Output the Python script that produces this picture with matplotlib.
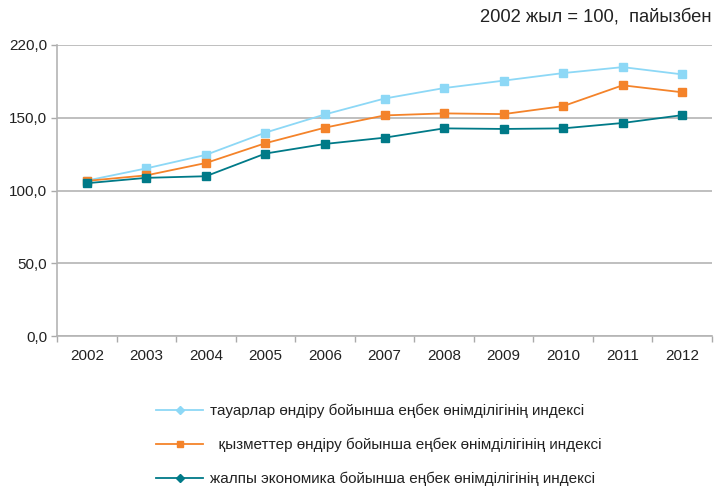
import matplotlib.pyplot as plt
from matplotlib.lines import Line2D
import numpy as np

plt.rcParams['font.family'] = ['Liberation Sans', 'DejaVu Sans']

years = ['2002', '2003', '2004', '2005', '2006', '2007', '2008', '2009', '2010', '2011', '2012']
goods = [106.8, 115.2, 124.5, 139.8, 152.3, 163.2, 170.4, 175.5, 180.7, 184.8, 179.8]
services = [106.6, 110.4, 118.9, 132.5, 143.2, 151.6, 153.0, 152.5, 158.0, 172.3, 167.5]
total = [105.0, 108.7, 109.8, 125.4, 132.0, 136.3, 142.7, 142.3, 142.7, 146.4, 151.8]
yticks = [0, 50, 100, 150, 200]
ytick_labels = ['0,0', '50,0', '100,0', '150,0', '220,0']
labels = ['тауарлар өндіру бойынша еңбек өнімділігінің индексі',
          '  қызметтер өндіру бойынша еңбек өнімділігінің индексі',
          'жалпы экономика бойынша еңбек өнімділігінің индексі']
colors = ['#8dd8f6', '#f4832a', '#007a88']

fig = plt.figure(figsize=(7.2, 4.88), dpi=100)
ax = fig.add_axes([57 / 720, 1 - 336 / 488, 655 / 720, 291 / 488])

x = np.arange(len(years))
for vals, c in zip([goods, services, total], colors):
    ax.plot(x, vals, color=c, lw=1.3, marker='s', ms=5.2, mec=c, mfc=c, zorder=3)

ax.set_xlim(-0.5, len(years) - 0.5)
ax.set_ylim(0, 200)
ax.set_yticks(yticks)
ax.set_yticklabels(ytick_labels, fontsize=11, color='#222222')
ax.set_xticks(x)
ax.set_xticklabels(years, fontsize=11, color='#222222')
ax.set_xticks(np.arange(-0.5, len(years)), minor=True)
ax.tick_params(axis='x', which='major', length=0, pad=9)
ax.tick_params(axis='x', which='minor', length=4, color='#aaaaaa', width=1)
ax.tick_params(axis='y', length=4, color='#aaaaaa', width=1, pad=3)
ax.grid(axis='y', color='#b4b4b4', lw=1.2)
ax.set_axisbelow(True)
for s in ['top', 'right']:
    ax.spines[s].set_visible(False)
for s in ['left', 'bottom']:
    ax.spines[s].set_color('#b4b4b4')
    ax.spines[s].set_linewidth(1.2)

fig.text(712 / 720, 1 - 17 / 488, '2002 жыл = 100,  пайызбен', ha='right', va='center',
         fontsize=13.2, color='#222222')

handles = [
    Line2D([], [], color=colors[0], lw=1.3, marker='D', ms=4.5, mec=colors[0], mfc=colors[0]),
    Line2D([], [], color=colors[1], lw=1.3, marker='s', ms=4.5, mec=colors[1], mfc=colors[1]),
    Line2D([], [], color=colors[2], lw=1.3, marker='D', ms=4.5, mec=colors[2], mfc=colors[2]),
]
fig.legend(handles, labels, loc='center', bbox_to_anchor=(379 / 720, 1 - 445 / 488),
           frameon=False, fontsize=11, labelspacing=1.3, handlelength=3.1,
           handletextpad=0.45, labelcolor='#222222')

fig.savefig('out.png', dpi=100)
